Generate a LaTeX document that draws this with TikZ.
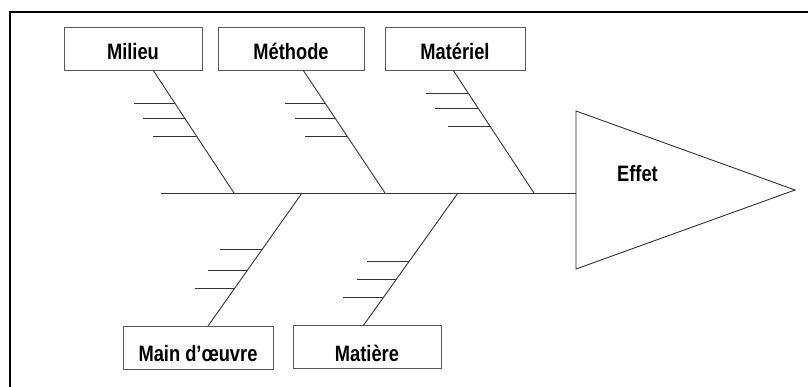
\documentclass[tikz,border=0pt]{standalone}
\usepackage{fontspec}
\setmainfont[FakeStretch=0.82]{Liberation Sans}
\usetikzlibrary{calc}
\begin{document}
\begin{tikzpicture}[x=1pt,y=-1pt,
  ln/.style={draw=black!80,line width=0.9pt},
  cbox/.style={draw=black!65,line width=0.9pt,fill=white,inner sep=0pt,
    minimum height=43pt,font=\fontsize{22.3}{26}\selectfont\bfseries},
  toprow/.style={cbox,text height=32.3pt,text depth=10.7pt},
  botrow/.style={cbox,text height=35.7pt,text depth=7.3pt},
  lbl/.style={font=\fontsize{22.3}{26}\selectfont\bfseries,inner sep=0pt}]
\useasboundingbox (0,0) rectangle (808,387);
% frame
\draw[line width=2pt] (9.5,390) -- (9.5,12.5) -- (812,12.5);
% boxes
\node[toprow,minimum width=138pt] (milieu) at (133,48.5) {Milieu};
\node[toprow,minimum width=146pt] (methode) at (291,48.5) {Méthode};
\node[toprow,minimum width=140pt] (materiel) at (455,48.5) {Matériel};
\node[botrow,minimum width=150pt] (main) at (198,347.5) {Main d’œuvre};
\node[botrow,minimum width=148pt,minimum height=42pt] (matiere) at (367,347) {Matière};
% spine and head
\coordinate (sL) at (161,193);
\coordinate (sR) at (576,193);
\coordinate (hT) at (576,111);
\coordinate (hP) at (795,190);
\coordinate (hB) at (576,269);
\draw[ln] (sL) -- (sR);
\draw[ln] (hT) -- (hP) -- (hB) -- cycle;
\node[lbl,anchor=base] (effet) at (637.5,182) {Effet};
% bone anchors
\coordinate (a1) at (153,70);  \coordinate (b1) at (234,193);
\coordinate (a2) at (303,70);  \coordinate (b2) at (385,193);
\coordinate (a3) at (453,70);  \coordinate (b3) at (534,193);
\coordinate (a4) at (208,326); \coordinate (b4) at (302,193);
\coordinate (a5) at (363,326); \coordinate (b5) at (458,193);
% bones
\draw[ln] (a1) -- (b1);
\draw[ln] (a2) -- (b2);
\draw[ln] (a3) -- (b3);
\draw[ln] (b4) -- (a4);
\draw[ln] (b5) -- (a5);
% ribs
\foreach \t/\l in {0.268/41,0.39/42,0.537/43}{
  \draw[ln] ($(a1)!\t!(b1)$) -- ++(-\l,0);}
\foreach \t/\l in {0.268/40,0.39/40,0.537/42}{
  \draw[ln] ($(a2)!\t!(b2)$) -- ++(-\l,0);}
\foreach \t/\l in {0.187/42,0.309/43,0.463/43}{
  \draw[ln] ($(a3)!\t!(b3)$) -- ++(-\l,0);}
\foreach \t/\l in {0.421/42,0.579/40,0.714/40}{
  \draw[ln] ($(b4)!\t!(a4)$) -- ++(-\l,0);}
\foreach \t/\l in {0.511/42,0.647/40,0.789/40}{
  \draw[ln] ($(b5)!\t!(a5)$) -- ++(-\l,0);}
\end{tikzpicture}
\end{document}
